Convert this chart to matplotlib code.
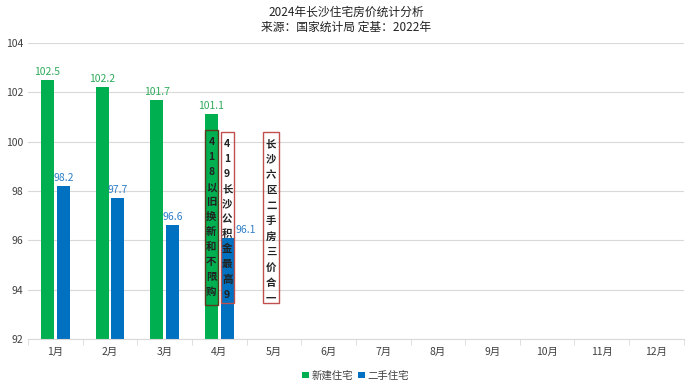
import matplotlib
matplotlib.use("Agg")
import matplotlib.pyplot as plt
from matplotlib.patches import Rectangle
import numpy as np

plt.rcParams['font.family'] = ['Noto Sans CJK SC', 'DejaVu Sans']

months = ['1月', '2月', '3月', '4月', '5月', '6月', '7月', '8月', '9月', '10月', '11月', '12月']
new_homes = [102.5, 102.2, 101.7, 101.1]
second_hand = [98.2, 97.7, 96.6, 96.1]
title_lines = ['2024年长沙住宅房价统计分析', '来源：国家统计局 定基：2022年']
notes = ['418以旧换新和不限购', '419长沙公积金最高90万', '长沙六区二手房三价合一']

GREEN = '#00b050'
BLUE = '#0070c0'

fig = plt.figure(figsize=(6.92, 3.86), dpi=100)
ax = fig.add_axes([0.0405, 0.122, 0.9475, 0.767])

x = np.arange(len(months))
w = 0.24
off = 0.145
xn = np.arange(len(new_homes))
xs = np.arange(len(second_hand))
ax.bar(xn - off, new_homes, width=w, color=GREEN, zorder=2, label='新建住宅')
ax.bar(xs + off, second_hand, width=w, color=BLUE, zorder=2, label='二手住宅')

for xi, v in zip(xn, new_homes):
    ax.text(xi - off, v + 0.12, f'{v:.1f}', ha='center', va='bottom', fontsize=7.5, color='#2eaa5a', zorder=3)
for i, (xi, v) in enumerate(zip(xs, second_hand)):
    if i == 3:
        # label sits next to the annotation box so it stays readable
        ax.text(xi + off + w / 2 + 0.03, v + 0.12, f'{v:.1f}', ha='left', va='bottom', fontsize=7.5,
                color='#2f7fc8', zorder=3)
    else:
        ax.text(xi + off, v + 0.12, f'{v:.1f}', ha='center', va='bottom', fontsize=7.5, color='#2f7fc8', zorder=3)

ax.set_ylim(92, 104)
ax.set_xlim(-0.5, 11.5)
ax.set_yticks([92, 94, 96, 98, 100, 102, 104])
ax.set_xticks(x)
ax.set_xticklabels(months)
ax.tick_params(axis='both', labelsize=7.5, colors='#404040', length=0)
ax.tick_params(axis='x', pad=6)
ax.set_xticks(np.arange(-0.5, 12, 1), minor=True)
ax.tick_params(axis='x', which='minor', length=4, color='#d9d9d9')
ax.yaxis.grid(True, color='#d9d9d9', linewidth=0.8, zorder=0)
for s in ['top', 'right', 'left']:
    ax.spines[s].set_visible(False)
ax.spines['bottom'].set_color('#d9d9d9')

# annotation boxes
def note_box(x0, width, y0, y1, text, edge, ls, clip=False):
    rect = Rectangle((x0, y0), width, y1 - y0, fill=False, edgecolor=edge, linewidth=1.0, zorder=4)
    ax.add_patch(rect)
    t = ax.text(x0 + width / 2, y1 - 0.3, '\n'.join(text), ha='center', va='top', fontsize=7.5,
                fontweight='bold', color='#222222', linespacing=ls, zorder=5)
    if clip:
        t.set_clip_path(rect)
        t.set_clip_on(True)

note_box(3 - off - w / 2, w, 93.38, 100.47, notes[0], '#5a3a1a', 1.62)
note_box(3 + off - w / 2, w, 93.45, 100.4, notes[1], '#c0504d', 1.62, clip=True)
note_box(3.95 - 0.145, 0.29, 93.45, 100.4, notes[2], '#c0504d', 1.68)

fig.text(0.5, 0.968, title_lines[0], ha='center', va='center', fontsize=8.5, color='#222222')
fig.text(0.5, 0.93, title_lines[1], ha='center', va='center', fontsize=8.5, color='#222222')

ax.legend(loc='upper center', bbox_to_anchor=(0.5, -0.075), ncol=2, frameon=False, fontsize=7.5,
          handlelength=0.6, handleheight=0.6, handletextpad=0.3, columnspacing=0.5, labelcolor='#404040')

fig.savefig('out.png', dpi=100)
